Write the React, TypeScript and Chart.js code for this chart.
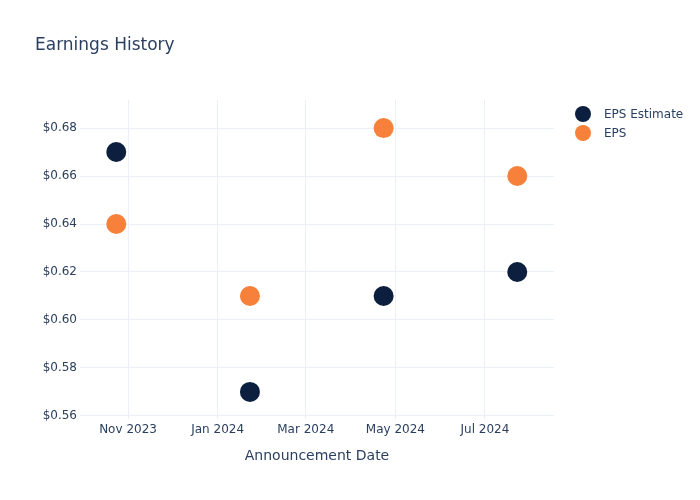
import React, { useEffect, useRef } from "react";
import { Chart, registerables } from "chart.js";

Chart.register(...registerables);

const announcementDates = ["2023-10-24", "2024-01-23", "2024-04-23", "2024-07-23"];
const epsEstimate = [0.67, 0.57, 0.61, 0.62];
const epsActual = [0.64, 0.61, 0.68, 0.66];
const xTickDates = ["2023-11-01", "2024-01-01", "2024-03-01", "2024-05-01", "2024-07-01"];
const xTickLabels = ["Nov 2023", "Jan 2024", "Mar 2024", "May 2024", "Jul 2024"];
const yTickValues = [0.56, 0.58, 0.6, 0.62, 0.64, 0.66, 0.68];
const seriesNames = ["EPS Estimate", "EPS"];
const seriesColors = ["#0d1f3f", "#f7813a"];

const DAY = 86400000;
const toDay = (s: string) => Date.parse(s + "T00:00:00Z") / DAY;

const FONT = "'DejaVu Sans', Verdana, sans-serif";
const TEXT = "#2a3f5f";
const GRID = "#ebf0f8";

const legendPlugin = {
  id: "customLegend",
  afterDraw(chart: any) {
    const ctx = chart.ctx;
    ctx.save();
    chart.data.datasets.forEach((ds: any, i: number) => {
      const y = 114 + i * 19;
      ctx.beginPath();
      ctx.arc(583, y, 8, 0, Math.PI * 2);
      ctx.fillStyle = ds.backgroundColor;
      ctx.fill();
      ctx.fillStyle = TEXT;
      ctx.font = `12px ${FONT}`;
      ctx.textBaseline = "middle";
      ctx.textAlign = "left";
      ctx.fillText(ds.label, 604, y + 1);
    });
    ctx.restore();
  },
};

export default function App() {
  const ref = useRef<HTMLCanvasElement>(null);
  useEffect(() => {
    if (!ref.current) return;
    const xs = announcementDates.map(toDay);
    const chart = new Chart(ref.current, {
      type: "scatter",
      data: {
        datasets: [
          {
            label: seriesNames[0],
            data: xs.map((x, i) => ({ x, y: epsEstimate[i] })),
            backgroundColor: seriesColors[0],
            borderColor: seriesColors[0],
            pointRadius: 10,
            pointHoverRadius: 10,
            borderWidth: 0,
          },
          {
            label: seriesNames[1],
            data: xs.map((x, i) => ({ x, y: epsActual[i] })),
            backgroundColor: seriesColors[1],
            borderColor: seriesColors[1],
            pointRadius: 10,
            pointHoverRadius: 10,
            borderWidth: 0,
          },
        ],
      },
      options: {
        responsive: false,
        animation: false,
        layout: { padding: { left: 35, right: 146, top: 0, bottom: 0 } },
        plugins: {
          legend: { display: false },
          tooltip: { enabled: false },
          title: {
            display: true,
            text: "Earnings History",
            align: "start",
            color: TEXT,
            font: { family: FONT, size: 17, weight: "normal" },
            padding: { top: 35.8, bottom: 43.8 },
          },
        },
        scales: {
          x: {
            type: "linear",
            min: toDay("2023-09-29") + 0.3,
            max: toDay("2024-08-17"),
            border: { display: false },
            grid: { color: GRID, drawTicks: false },
            afterBuildTicks: (scale: any) => {
              scale.ticks = xTickDates.map((d) => ({ value: toDay(d) }));
            },
            afterFit: (scale: any) => {
              scale.height = 81;
            },
            ticks: {
              color: TEXT,
              font: { family: FONT, size: 12 },
              padding: 4,
              maxRotation: 0,
              autoSkip: false,
              callback: (v: any) => {
                const idx = xTickDates.findIndex((d) => toDay(d) === v);
                return idx >= 0 ? xTickLabels[idx] : "";
              },
            },
            title: {
              display: true,
              text: "Announcement Date",
              color: TEXT,
              font: { family: FONT, size: 14 },
              padding: { top: 0, bottom: 35 },
            },
          },
          y: {
            type: "linear",
            min: 0.5587,
            max: 0.6917,
            border: { display: false },
            grid: { color: GRID, drawTicks: false },
            afterBuildTicks: (scale: any) => {
              scale.ticks = yTickValues.map((v) => ({ value: v }));
            },
            afterFit: (scale: any) => {
              scale.width = 45;
            },
            ticks: {
              color: TEXT,
              font: { family: FONT, size: 12 },
              padding: 3,
              callback: (v: any) => "$" + Number(v).toFixed(2),
            },
          },
        },
      } as any,
      plugins: [legendPlugin],
    });
    return () => chart.destroy();
  }, []);
  return (
    <div style={{ position: "absolute", left: 0, top: 0, width: 700, height: 500, background: "#fff" }}>
      <canvas ref={ref} width={700} height={500} />
    </div>
  );
}
